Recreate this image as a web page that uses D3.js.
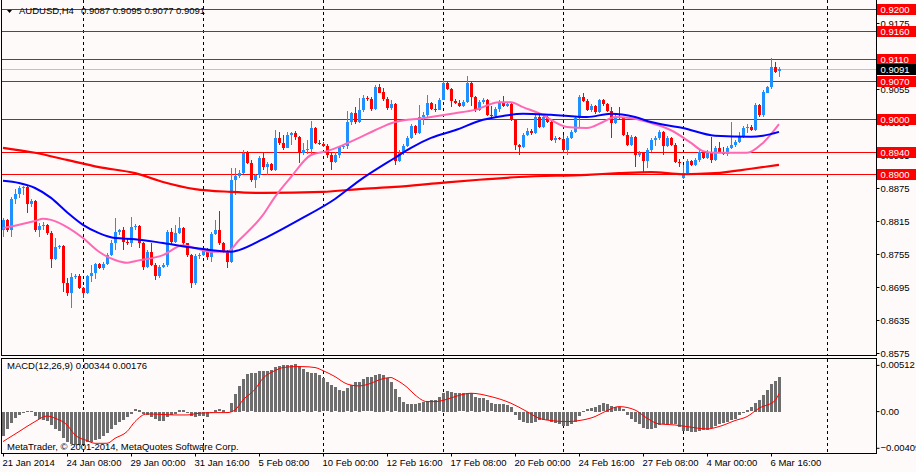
<!DOCTYPE html>
<html>
<head>
<meta charset="utf-8">
<script src="https://cdn.jsdelivr.net/npm/d3@7"></script>
<style>
  body { margin: 0; background: #fffafa; }
  svg text { font-family: "Liberation Sans", Arial, sans-serif; font-size: 9.5px; }
</style>
</head>
<body>
<div id="chart"></div>
<script>
// AUDUSD H4 candles, 21 Jan 2014 16:00 .. 7 Mar 2014 00:00 (195 bars)
const opens = [
  .8799,.8817,.8799,.8855,.8864,.8875,.8877,.8846,.8851,.8799,
  .8806,.8808,.8793,.8746,.8768,.8770,.8702,.8684,.8713,.8715,
  .8693,.8684,.8715,.8720,.8737,.8730,.8737,.8753,.8775,.8795,
  .8799,.8777,.8775,.8804,.8806,.8775,.8731,.8759,.8735,.8715,
  .8731,.8735,.8795,.8777,.8793,.8802,.8775,.8753,.8702,.8751,
  .8753,.8764,.8750,.8791,.8799,.8775,.8761,.8741,.8890,.8897,
  .8902,.8939,.8920,.8890,.8899,.8930,.8913,.8919,.8908,.8966,
  .8957,.8948,.8971,.8975,.8968,.8939,.8944,.8946,.8984,.8957,
  .8955,.8951,.8935,.8922,.8935,.8950,.8951,.8995,.9011,.8995,
  .9017,.9039,.9037,.9019,.9059,.9049,.9037,.9020,.9028,.8924,
  .8939,.8951,.8966,.8988,.8975,.9004,.9008,.9029,.9019,.9017,
  .9035,.9066,.9055,.9033,.9029,.9024,.9031,.9066,.9040,.9017,
  .9031,.9035,.9008,.9006,.9019,.9031,.9024,.9028,.8999,.8953,
  .8950,.8971,.8979,.8975,.9004,.8986,.9004,.8995,.8962,.8966,
  .8964,.8944,.8966,.8977,.9002,.9040,.9033,.9017,.9024,.9013,
  .9035,.9028,.9015,.8993,.9004,.9002,.8971,.8953,.8968,.8935,
  .8939,.8924,.8944,.8962,.8966,.8977,.8951,.8966,.8953,.8922,
  .8893,.8902,.8924,.8917,.8926,.8940,.8930,.8940,.8926,.8948,
  .8940,.8937,.8948,.8953,.8959,.8968,.8984,.8986,.8980,.9026,
  .9008,.9049,.9059,.9095,.9087
];
const highs = [
  .8820,.8818,.8859,.8873,.8879,.8879,.8879,.8855,.8853,.8811,
  .8813,.8809,.8797,.8784,.8771,.8771,.8711,.8720,.8719,.8719,
  .8695,.8717,.8735,.8739,.8739,.8741,.8757,.8780,.8820,.8800,
  .8804,.8782,.8822,.8809,.8808,.8777,.8762,.8775,.8739,.8735,
  .8739,.8799,.8802,.8808,.8822,.8804,.8775,.8755,.8755,.8757,
  .8766,.8766,.8795,.8817,.8833,.8777,.8762,.8911,.8911,.8908,
  .8944,.8942,.8926,.8900,.8933,.8939,.8922,.8920,.8980,.8977,
  .8971,.8977,.8977,.8979,.8970,.8957,.8962,.8997,.8986,.8962,
  .8959,.8955,.8939,.8940,.8951,.8955,.9015,.9013,.9022,.9039,
  .9044,.9042,.9040,.9062,.9064,.9057,.9040,.9035,.9029,.8944,
  .8955,.8970,.8991,.8990,.9026,.9013,.9044,.9031,.9028,.9039,
  .9071,.9068,.9057,.9037,.9035,.9035,.9079,.9068,.9042,.9035,
  .9039,.9037,.9024,.9022,.9035,.9042,.9031,.9029,.9000,.8955,
  .8975,.8984,.8982,.9008,.9008,.9008,.9006,.8997,.8970,.8968,
  .8971,.8970,.8980,.9006,.9044,.9048,.9037,.9028,.9026,.9037,
  .9037,.9029,.9022,.9008,.9022,.9002,.8977,.8971,.8970,.8942,
  .8940,.8948,.8966,.8970,.8980,.8979,.8970,.8968,.8957,.8928,
  .8917,.8928,.8926,.8930,.8944,.8942,.8944,.8968,.8951,.8959,
  .8950,.8951,.8995,.8962,.8977,.8988,.8991,.8990,.9029,.9028,
  .9053,.9060,.9111,.9104,.9095
];
const lows = [
  .8786,.8795,.8786,.8846,.8857,.8862,.8829,.8840,.8795,.8786,
  .8799,.8790,.8730,.8744,.8764,.8686,.8679,.8657,.8710,.8691,
  .8675,.8682,.8704,.8710,.8728,.8726,.8735,.8751,.8762,.8790,
  .8762,.8771,.8768,.8799,.8766,.8726,.8730,.8733,.8708,.8711,
  .8730,.8731,.8773,.8775,.8791,.8771,.8750,.8693,.8699,.8746,
  .8751,.8744,.8741,.8790,.8771,.8757,.8730,.8739,.8862,.8893,
  .8900,.8919,.8886,.8875,.8893,.8908,.8899,.8906,.8906,.8953,
  .8944,.8948,.8953,.8962,.8920,.8935,.8937,.8937,.8955,.8953,
  .8950,.8930,.8908,.8920,.8930,.8946,.8946,.8990,.8991,.8993,
  .9013,.9033,.9015,.9017,.9048,.9033,.9017,.9017,.8917,.8922,
  .8935,.8950,.8964,.8971,.8973,.8990,.9004,.9017,.9013,.9017,
  .9035,.9053,.9022,.9028,.9022,.9022,.9029,.9024,.9013,.9015,
  .9028,.9006,.8999,.9004,.9013,.9022,.9022,.8997,.8944,.8935,
  .8948,.8970,.8971,.8973,.8984,.8984,.8993,.8960,.8957,.8962,
  .8939,.8935,.8964,.8975,.8984,.9031,.9015,.9013,.9010,.9011,
  .9024,.9013,.8966,.8991,.9000,.8970,.8951,.8951,.8913,.8931,
  .8904,.8911,.8940,.8951,.8962,.8935,.8950,.8951,.8920,.8913,
  .8891,.8900,.8915,.8915,.8922,.8928,.8928,.8920,.8924,.8939,
  .8935,.8933,.8946,.8950,.8957,.8966,.8975,.8979,.8979,.9004,
  .9004,.9048,.9055,.9084,.9077
];
const closes = [
  .8817,.8799,.8855,.8864,.8875,.8877,.8846,.8851,.8799,.8806,
  .8808,.8793,.8746,.8768,.8770,.8702,.8684,.8713,.8715,.8693,
  .8684,.8715,.8720,.8737,.8730,.8737,.8753,.8775,.8795,.8799,
  .8777,.8775,.8804,.8806,.8775,.8731,.8759,.8735,.8715,.8731,
  .8735,.8795,.8777,.8793,.8802,.8775,.8753,.8702,.8751,.8753,
  .8764,.8750,.8791,.8799,.8775,.8761,.8741,.8890,.8897,.8902,
  .8939,.8920,.8890,.8899,.8930,.8913,.8919,.8908,.8966,.8957,
  .8948,.8971,.8975,.8968,.8939,.8944,.8946,.8984,.8957,.8955,
  .8951,.8935,.8922,.8935,.8950,.8951,.8995,.9011,.8995,.9017,
  .9039,.9037,.9019,.9059,.9049,.9037,.9020,.9028,.8924,.8939,
  .8951,.8966,.8988,.8975,.9004,.9008,.9029,.9019,.9017,.9035,
  .9066,.9055,.9033,.9029,.9024,.9031,.9066,.9040,.9017,.9031,
  .9035,.9008,.9006,.9019,.9031,.9024,.9028,.8999,.8953,.8950,
  .8971,.8979,.8975,.9004,.8986,.9004,.8995,.8962,.8966,.8964,
  .8944,.8966,.8977,.9002,.9040,.9033,.9017,.9024,.9013,.9035,
  .9028,.9015,.8993,.9004,.9002,.8971,.8953,.8968,.8935,.8939,
  .8924,.8944,.8962,.8966,.8977,.8951,.8966,.8953,.8922,.8920,
  .8902,.8924,.8917,.8926,.8940,.8930,.8940,.8926,.8948,.8940,
  .8937,.8948,.8953,.8959,.8968,.8984,.8986,.8980,.9026,.9008,
  .9049,.9059,.9095,.9086,.9091
];

// moving averages, read at these bar indexes
const blueMaIdx = [0,4,8,12,16,20,24,28,33,40,48,57,59,65,74,83,89,98,102,107,113,120,125,130,137,146,152,158,162,170,178,187,190,194];
const blueMaVal = [.8888,.8884,.8875,.8857,.8831,.8808,.8793,.8784,.8782,.8775,.8766,.8759,.8762,.8782,.8817,.8855,.8888,.8930,.8948,.8966,.8980,.8999,.9006,.9010,.9008,.9004,.9010,.9004,.8995,.8984,.8970,.8968,.8970,.8977];
const pinkMaIdx = [0,4,8,10,12,16,20,24,28,31,33,40,45,48,52,56,59,65,68,72,77,81,85,89,93,98,105,113,118,124,127,130,134,141,146,150,153,157,163,167,172,175,178,186,190,194];
const pinkMaVal = [.8802,.8808,.8815,.8819,.8817,.8804,.8784,.8759,.8744,.8739,.8742,.8753,.8771,.8766,.8759,.8759,.8780,.8826,.8859,.8895,.8935,.8942,.8953,.8966,.8980,.8995,.9002,.9011,.9017,.9031,.9031,.9022,.9011,.8986,.8984,.8995,.9004,.9002,.8991,.8980,.8957,.8942,.8939,.8939,.8957,.8991];
const redMaIdx = [0,8,16,24,33,40,48,57,65,80,89,98,109,119,129,146,154,162,170,178,187,194];
const redMaVal = [.8948,.8939,.8926,.8913,.8902,.8886,.8873,.8868,.8866,.8868,.8873,.8877,.8884,.8890,.8895,.8899,.8902,.8904,.8900,.8902,.8910,.8917];

// MACD(12,26,9) main values per bar and signal line read at bar indexes
const macdMain = [
  -0.00239,-0.00164,-0.00108,-0.00059,-0.00033,-0.0001,0.0001,0.0001,-0.00039,-0.00065,
  -0.00082,-0.00088,-0.00131,-0.00164,-0.00186,-0.00252,-0.00294,-0.00317,-0.00327,-0.00327,
  -0.0032,-0.00294,-0.00294,-0.00271,-0.00262,-0.00239,-0.00206,-0.00164,-0.00131,-0.00098,
  -0.00075,-0.00049,-0.00016,0.00023,0.00016,-0.00016,-0.00026,-0.00049,-0.00065,-0.00092,
  -0.00092,-0.00049,-0.00033,-0.00016,0.00016,0.00016,-0.0001,-0.00043,-0.00049,-0.00043,
  -0.00043,-0.00049,-0.0001,0.00016,0.00023,0.00016,-0.0001,0.00088,0.00173,0.00252,
  0.00317,0.0037,0.00376,0.00383,0.00402,0.00402,0.00402,0.00409,0.00441,0.00451,
  0.00455,0.00458,0.00461,0.00468,0.00448,0.00415,0.00392,0.00383,0.00376,0.0036,
  0.00327,0.00288,0.00262,0.00239,0.00213,0.00206,0.00229,0.00262,0.00288,0.00294,
  0.00317,0.00337,0.00337,0.0036,0.0037,0.0036,0.00327,0.00294,0.00219,0.00147,
  0.00098,0.00075,0.00075,0.00075,0.00082,0.00098,0.00108,0.00114,0.00114,0.00141,
  0.00186,0.00203,0.00196,0.00186,0.0018,0.0018,0.00186,0.0018,0.00147,0.00137,
  0.00131,0.00114,0.00082,0.00075,0.00075,0.00075,0.00065,0.00049,-0.00033,-0.00075,
  -0.00098,-0.00108,-0.00108,-0.00098,-0.00082,-0.00082,-0.00082,-0.00098,-0.00108,-0.00114,
  -0.00141,-0.00141,-0.00121,-0.00098,-0.00043,0.00007,0.00023,0.00033,0.00049,0.00065,
  0.00082,0.00075,0.00056,0.00043,0.00043,0.00023,-0.00033,-0.00065,-0.00098,-0.00121,
  -0.00154,-0.00164,-0.00164,-0.00154,-0.00131,-0.00114,-0.00121,-0.00121,-0.00121,-0.00147,
  -0.00186,-0.00186,-0.00196,-0.00196,-0.00186,-0.00173,-0.00173,-0.00154,-0.00141,-0.00114,
  -0.00108,-0.00098,-0.00082,-0.00065,-0.00033,-0.0001,0.00016,0.00043,0.00088,0.00114,
  0.00164,0.00213,0.00271,0.00304,0.00344
];
const signalIdx = [0,4,8,11,13,16,18,21,23,26,28,31,33,36,39,43,46,49,53,56,58,60,63,65,68,70,73,75,78,80,83,86,89,92,94,97,98,101,103,106,108,111,113,117,122,127,131,134,138,141,144,148,151,154,158,161,164,168,171,176,179,183,186,189,193,194];
const signalVal = [-.00294,-.00196,-.00098,-.00043,-.00065,-.00131,-.00229,-.00284,-.00311,-.00311,
  -.00262,-.00196,-.00098,-.00023,-.00026,-.00033,-.00033,-.00016,-.0001,-.0001,
  .00016,.00114,.00219,.00327,.00402,.00432,.00441,.00441,.00432,.00402,
  .00343,.00271,.00252,.00278,.00311,.00334,.00317,.00239,.00164,.00098,
  .00098,.00121,.00147,.0018,.00147,.00082,0,-.00065,-.00092,-.00098,
  -.00088,-.00049,.0001,.00049,.00016,-.00065,-.00121,-.00131,-.00147,-.0017,
  -.00147,-.00088,-.00049,.00033,.00108,.00176];

// horizontal levels, bid, axis ticks and time labels
const levels = [0.9200, 0.9160, 0.9110, 0.9070, 0.9000, 0.8940, 0.8900];
const bid = 0.9091;
const priceTicks = [0.9175, 0.9115, 0.9055, 0.8995, 0.8935, 0.8875, 0.8815, 0.8755, 0.8695, 0.8635, 0.8575];
const macdTicks = [0.00512, 0, -0.00409];
const timeIdx = [0, 16, 32, 48, 64, 80, 96, 112, 128, 144, 160, 176, 192];
const timeLabels = ["21 Jan 2014", "24 Jan 08:00", "29 Jan 00:00", "31 Jan 16:00", "5 Feb 08:00", "10 Feb 00:00",
  "12 Feb 16:00", "17 Feb 08:00", "20 Feb 00:00", "24 Feb 16:00", "27 Feb 08:00", "4 Mar 00:00", "6 Mar 16:00"];
const weekIdx = [20, 50, 80, 110, 140, 170, 206];

const width = 916, height = 472;
const left = 1.5, right = 876.5;
const mainTop = 0, mainBottom = 355.5;
const macdTop = 358.5, macdBottom = 453.5;

const svg = d3.select("#chart").append("svg")
  .attr("width", width).attr("height", height)
  .style("background", "#fffafa");

const x = d3.scaleLinear().domain([0, 194]).range([3, 779]);
const yMain = d3.scaleLinear().domain([0.8575, 0.92168]).range([353, 0]);
const yMacd = d3.scaleLinear().domain([-0.00409, 0.00512]).range([453.3, 359.4]);
const px = i => Math.round(x(i)) + 0.5;

svg.append("clipPath").attr("id", "clipMain")
  .append("rect").attr("x", left).attr("y", mainTop).attr("width", right - left).attr("height", mainBottom - mainTop);
svg.append("clipPath").attr("id", "clipMacd")
  .append("rect").attr("x", left).attr("y", macdTop).attr("width", right - left).attr("height", macdBottom - macdTop);

const main = svg.append("g").attr("clip-path", "url(#clipMain)");
const sub = svg.append("g").attr("clip-path", "url(#clipMacd)");

// weekly dashed grid
[[main, mainTop, mainBottom], [sub, macdTop, macdBottom]].forEach(([g, t, b]) => {
  g.selectAll(".grid").data(weekIdx).join("line")
    .attr("x1", d => px(d)).attr("x2", d => px(d))
    .attr("y1", t).attr("y2", b)
    .attr("stroke", "#000").attr("stroke-dasharray", "3,3")
    .attr("shape-rendering", "crispEdges");
});

// horizontal level lines and bid line
main.selectAll(".lvl").data(levels).join("line")
  .attr("x1", left).attr("x2", right)
  .attr("y1", d => Math.round(yMain(d)) + 0.5).attr("y2", d => Math.round(yMain(d)) + 0.5)
  .attr("stroke", "#ff0000").attr("shape-rendering", "crispEdges");
main.append("line")
  .attr("x1", left).attr("x2", right)
  .attr("y1", Math.round(yMain(bid)) + 0.5).attr("y2", Math.round(yMain(bid)) + 0.5)
  .attr("stroke", "#c0c0c0").attr("shape-rendering", "crispEdges");

// candles
const bars = d3.range(closes.length);
const col = i => closes[i] >= opens[i] ? "#1e90ff" : "#ff0000";
main.selectAll(".wick").data(bars).join("line")
  .attr("x1", px).attr("x2", px)
  .attr("y1", i => yMain(highs[i])).attr("y2", i => yMain(lows[i]))
  .attr("stroke", col).attr("shape-rendering", "crispEdges");
main.selectAll(".body").data(bars).join("rect")
  .attr("x", i => Math.round(x(i)) - 1)
  .attr("width", 3)
  .attr("y", i => Math.round(yMain(Math.max(opens[i], closes[i]))))
  .attr("height", i => Math.max(1, Math.round(Math.abs(yMain(opens[i]) - yMain(closes[i])))))
  .attr("fill", col).attr("shape-rendering", "crispEdges");

// moving averages
const maLine = (idx, val) => d3.line().curve(d3.curveMonotoneX)
  .x((d, k) => x(idx[k])).y((d, k) => yMain(val[k]))(val);
main.append("path").attr("d", maLine(redMaIdx, redMaVal))
  .attr("fill", "none").attr("stroke", "#ff0000").attr("stroke-width", 2.2);
main.append("path").attr("d", maLine(pinkMaIdx, pinkMaVal))
  .attr("fill", "none").attr("stroke", "#ff69b4").attr("stroke-width", 2);
main.append("path").attr("d", maLine(blueMaIdx, blueMaVal))
  .attr("fill", "none").attr("stroke", "#0000ff").attr("stroke-width", 2);

// MACD histogram and signal
sub.selectAll(".hist").data(bars).join("rect")
  .attr("x", i => Math.round(x(i)) - 1)
  .attr("width", 3)
  .attr("y", i => Math.round(Math.min(yMacd(0), yMacd(macdMain[i]))))
  .attr("height", i => Math.max(1, Math.round(Math.abs(yMacd(macdMain[i]) - yMacd(0)))))
  .attr("fill", "#6e6e6e").attr("shape-rendering", "crispEdges");
sub.append("path")
  .attr("d", d3.line().curve(d3.curveMonotoneX)
    .x((d, k) => x(signalIdx[k])).y((d, k) => yMacd(signalVal[k]))(signalVal))
  .attr("fill", "none").attr("stroke", "#ff0000").attr("stroke-width", 1);

// panel frames
[[mainTop - 1, mainBottom], [macdTop, macdBottom]].forEach(([t, b]) => {
  svg.append("rect").attr("x", left).attr("y", t).attr("width", right - left).attr("height", b - t)
    .attr("fill", "none").attr("stroke", "#000").attr("shape-rendering", "crispEdges");
});

// price axis
const yAxis = svg.append("g").attr("transform", `translate(${right},0)`)
  .call(d3.axisRight(yMain).tickValues(priceTicks).tickSize(3).tickPadding(1).tickFormat(d3.format(".4f")));
yAxis.select(".domain").remove();
yAxis.selectAll("text").attr("fill", "#000");

// level / bid labels
const tags = levels.map(v => ({ v, bg: "#ff0000" })).concat([{ v: bid, bg: "#000" }]);
const tag = svg.selectAll(".tag").data(tags).join("g")
  .attr("transform", d => `translate(${right},${Math.round(yMain(d.v))})`);
tag.append("rect").attr("x", 0.5).attr("y", -5).attr("width", 40).attr("height", 11).attr("fill", d => d.bg);
tag.append("text").attr("x", 4).attr("y", 0.5).attr("dy", "0.35em").attr("fill", "#fff")
  .text(d => d3.format(".4f")(d.v));

// MACD axis
const mAxis = svg.append("g").attr("transform", `translate(${right},0)`)
  .call(d3.axisRight(yMacd).tickValues(macdTicks).tickSize(3).tickPadding(1)
    .tickFormat(v => v === 0 ? "0.00" : d3.format(".5f")(v)));
mAxis.select(".domain").remove();
mAxis.selectAll(".tick").attr("transform", v => {
  const shift = v === macdTicks[0] ? 6 : v === macdTicks[2] ? -5 : 0;
  return `translate(0,${yMacd(v) + shift})`;
});
mAxis.selectAll("text").attr("fill", "#000");

// time axis
const xAxis = svg.append("g").attr("transform", `translate(0,${macdBottom})`)
  .call(d3.axisBottom(x).tickValues(timeIdx).tickSize(3).tickPadding(3)
    .tickFormat((d, k) => timeLabels[k]));
xAxis.select(".domain").remove();
xAxis.selectAll(".tick").attr("transform", d => `translate(${px(d)},0)`);
xAxis.selectAll("text").attr("text-anchor", "start").attr("x", -1).attr("fill", "#000");

// titles
const last = closes.length - 1;
const f4 = d3.format(".4f"), f5 = d3.format(".5f");
svg.append("path").attr("d", "M7,10L12,10L9.5,13Z").attr("fill", "#000");
svg.append("text").attr("x", 19).attr("y", 14).text("AUDUSD,H4");
svg.append("text").attr("x", 81).attr("y", 14)
  .text([opens[last], highs[last], lows[last], closes[last]].map(f4).join(" "));
svg.append("text").attr("x", 7).attr("y", 369)
  .text(`MACD(12,26,9) ${f5(macdMain[last])} ${f5(signalVal[signalVal.length - 1])}`);
svg.append("text").attr("x", 7).attr("y", 450)
  .text("MetaTrader, © 2001-2014, MetaQuotes Software Corp.");
</script>
</body>
</html>
